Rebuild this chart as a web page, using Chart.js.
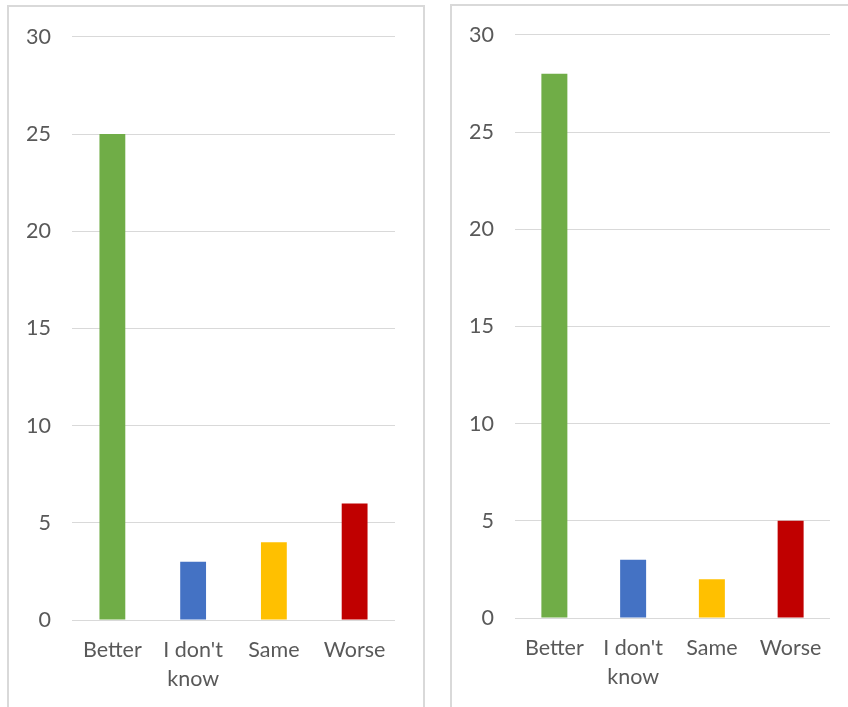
<!DOCTYPE html>
<html>
<head>
<meta charset="utf-8">
<script src="https://cdn.jsdelivr.net/npm/chart.js@4/dist/chart.umd.min.js"></script>
<style>
  body { margin: 0; background: #fff; width: 848px; height: 707px; overflow: hidden; position: relative; }
  .box { position: absolute; border: 2px solid #d9d9d9; border-bottom: none; background: #fff; }
  #boxLeft { left: 7px; top: 5px; width: 414px; height: 710px; }
  #boxRight { left: 450px; top: 4px; width: 410px; height: 710px; }
  canvas { position: absolute; left: 0; }
  #chartLeft { top: -4px; }
  #chartRight { top: -5px; }
</style>
</head>
<body>
<div class="box" id="boxLeft"><canvas id="chartLeft" width="414" height="704"></canvas></div>
<div class="box" id="boxRight"><canvas id="chartRight" width="396" height="704"></canvas></div>
<script>
// categories and values (two surveys)
const categories = ['Better', ["I don't", 'know'], 'Same', 'Worse'];
const leftValues = [25, 3, 4, 6];
const rightValues = [28, 3, 2, 5];
const barColors = ['#70ad47', '#4472c4', '#ffc000', '#c00000'];
const yTicks = [0, 5, 10, 15, 20, 25, 30];

const textColor = '#595959';
const gridColor = '#d9d9d9';
const fontFamily = 'Lato, "Open Sans", sans-serif';

function makeChart(id, values, rightPad, barPct)
{
	const ctx = document.getElementById(id);
	return new Chart(ctx, {
		type: 'bar',
		data: {
			labels: categories,
			datasets: [{
				data: values,
				backgroundColor: barColors,
				borderWidth: 0,
				barPercentage: barPct,
				categoryPercentage: 1,
			}]
		},
		options: {
			responsive: false,
			animation: false,
			plugins: { legend: { display: false }, tooltip: { enabled: false } },
			layout: { padding: { top: 23, right: rightPad, left: 0, bottom: 0 } },
			scales: {
				x: {
					grid: { display: false, drawTicks: false },
					border: { display: false },
					ticks: {
						color: textColor,
						font: { family: fontFamily, size: 21.5, lineHeight: 1.36 },
						padding: 15,
						maxRotation: 0,
						autoSkip: false,
					},
					afterFit: (scale) => { scale.height = 87; },
				},
				y: {
					min: 0,
					max: 30,
					afterBuildTicks: (scale) => { scale.ticks = yTicks.map(v => ({ value: v })); },
					grid: { color: gridColor, lineWidth: 1, drawTicks: false },
					border: { display: false },
					ticks: {
						color: textColor,
						font: { family: fontFamily, size: 21.5 },
						padding: 21,
					},
					afterFit: (scale) => { scale.width = 63; },
				}
			}
		}
	});
}

makeChart('chartLeft', leftValues, 28, 0.32);
makeChart('chartRight', rightValues, 18, 0.33);
</script>
</body>
</html>
